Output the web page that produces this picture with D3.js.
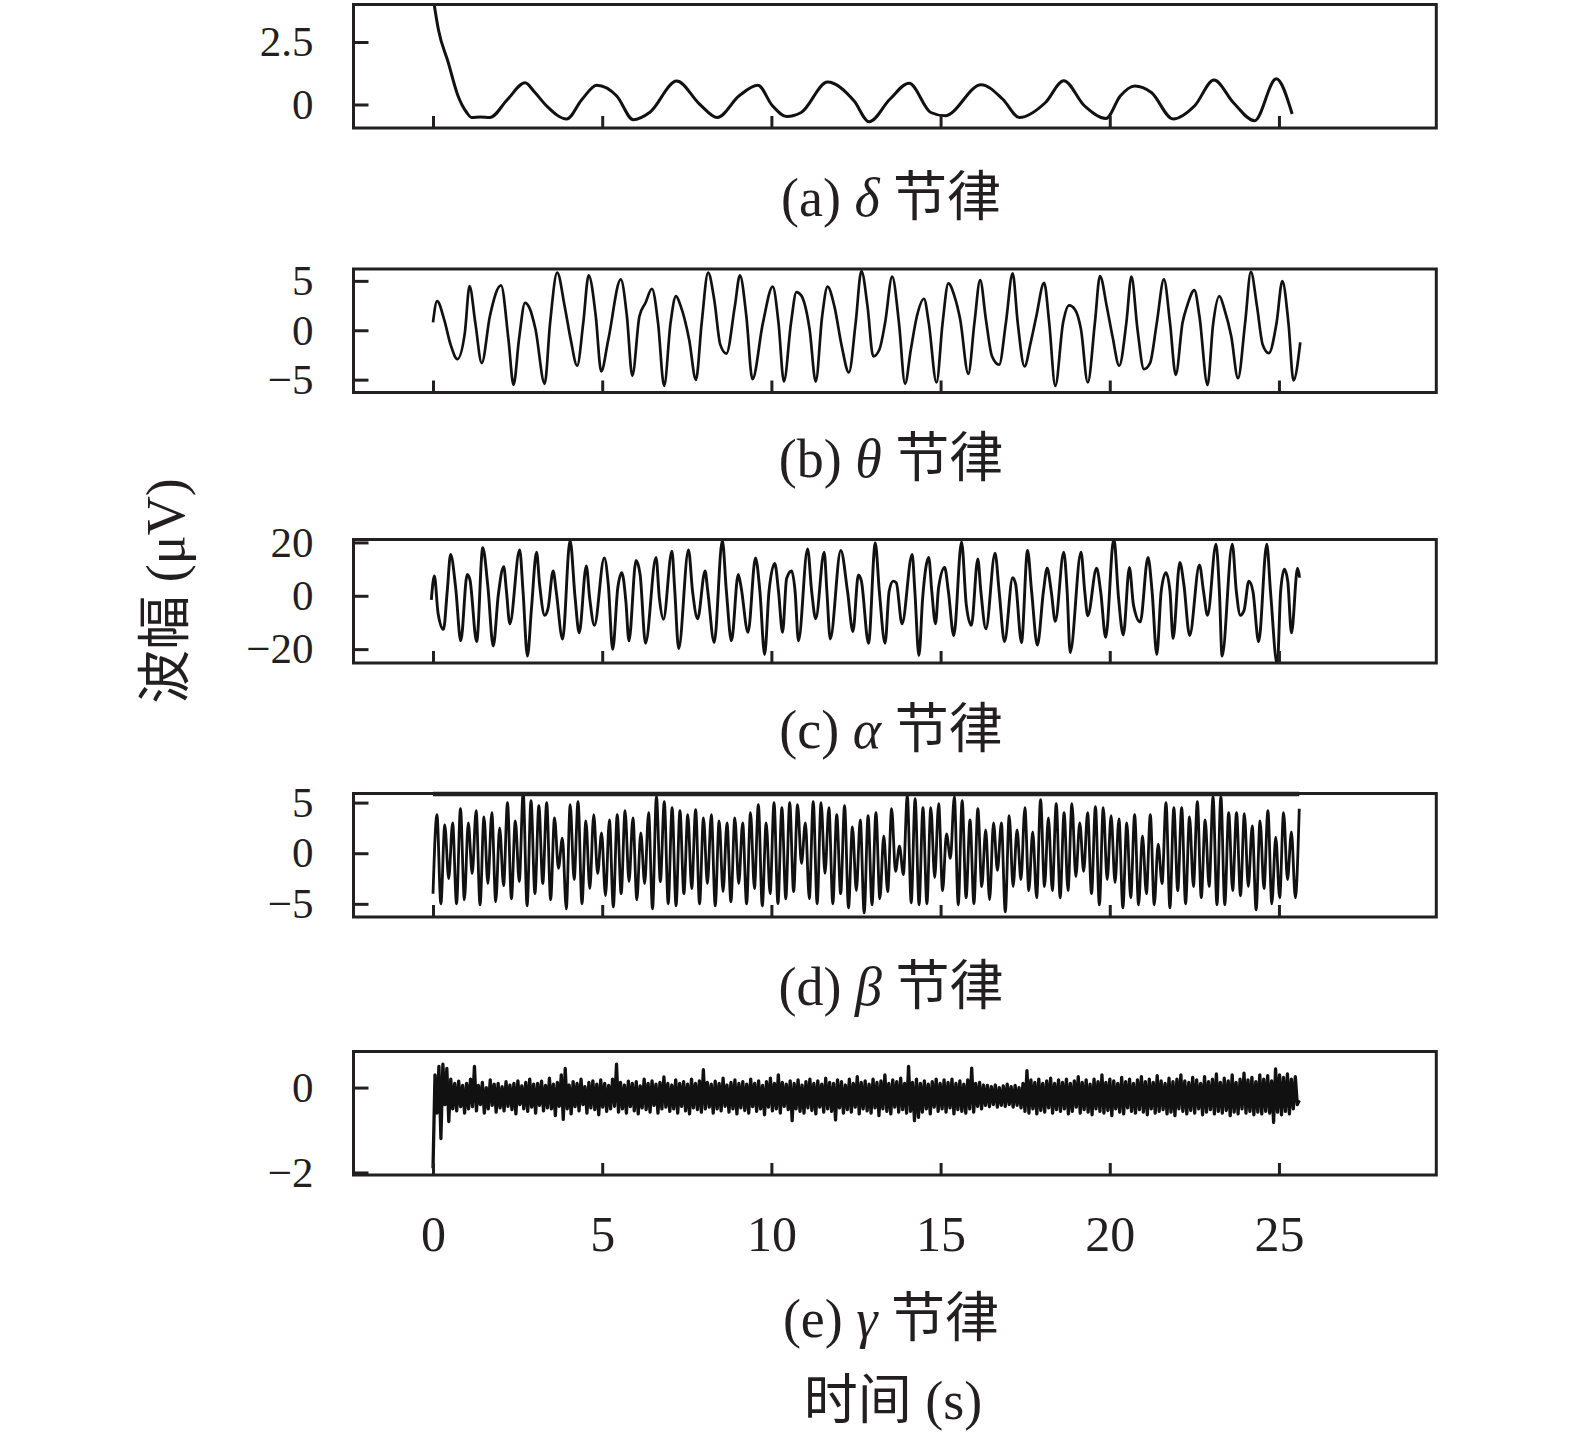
<!DOCTYPE html>
<html><head><meta charset="utf-8">
<script src="https://cdn.jsdelivr.net/npm/d3@7"></script>
<style>
body{margin:0;background:#fff}
svg{display:block}
text{font-family:"Liberation Serif","Times New Roman","Noto Sans CJK SC",serif;fill:#231f20}
</style>
</head><body>
<svg id="chart" width="1575" height="1439"></svg>
<script>
// ---------- DATA ----------
const xTickValues = [0, 5, 10, 15, 20, 25];
const panelLetters = ["(a)", "(b)", "(c)", "(d)", "(e)"];
const rhythmGreek = ["δ", "θ", "α", "β", "γ"];
const rhythmWord = "节律";
const yAxisTitle = "波幅 (μV)";
const xAxisTitle = "时间 (s)";

const yTicksDelta = [0, 2.5];
const yTicksTheta = [-5, 0, 5];
const yTicksAlpha = [-20, 0, 20];
const yTicksBeta = [-5, 0, 5];
const yTicksGamma = [-2, 0];

// delta rhythm: [time s, amplitude]
const deltaWave = [[0,4.3],[0.16,2.99],[0.45,1.68],[0.74,0.34],[0.99,-0.31],[1.14,-0.52],[1.4,-0.5],[1.68,-0.52],[2.2,0.2],[2.72,0.87],[3.0,0.5],[3.36,-0.06],[3.95,-0.58],[4.4,0.2],[4.84,0.77],[5.43,0.34],[5.92,-0.61],[6.41,-0.31],[7.2,0.94],[7.88,0.01],[8.4,-0.52],[9.04,0.34],[9.6,0.77],[10.03,-0.05],[10.45,-0.48],[10.88,-0.32],[11.66,0.9],[12.44,0.15],[12.89,-0.69],[13.5,0.21],[14.07,0.85],[14.71,-0.32],[15.13,-0.45],[16.2,0.79],[16.84,0.21],[17.33,-0.52],[18.1,0.08],[18.64,0.95],[19.25,-0.05],[19.89,-0.56],[20.31,0.34],[20.74,0.74],[21.23,0.48],[21.87,-0.58],[22.51,-0.05],[23.08,0.98],[23.65,0.08],[24.28,-0.65],[24.92,1.03],[25.39,-0.38]];

// theta rhythm: [time s, amplitude]
const thetaWave = [[0,0.8],[0.12,2.95],[0.33,1.08],[0.52,-1.46],[0.72,-2.92],[0.94,-0.27],[1.08,4.47],[1.25,0.75],[1.44,-3.32],[1.68,1.42],[2.01,4.54],[2.23,-0.95],[2.38,-5.53],[2.54,-0.95],[2.72,2.78],[2.85,2.27],[3.03,0.07],[3.3,-5.42],[3.46,0.75],[3.67,5.83],[3.89,2.44],[4.07,-0.95],[4.26,-3.59],[4.44,0.75],[4.6,5.56],[4.81,1.42],[4.97,-4.17],[5.18,-0.95],[5.55,5.15],[5.73,1.42],[5.89,-4.61],[6.1,1.42],[6.28,2.78],[6.47,4.2],[6.65,0.75],[6.83,-5.63],[7.02,0.75],[7.18,3.46],[7.32,2.44],[7.57,-0.95],[7.77,-5.02],[7.94,0.75],[8.13,5.83],[8.31,3.12],[8.49,-1.46],[8.67,-2.37],[8.92,2.44],[9.07,5.56],[9.26,1.42],[9.44,-4.95],[9.75,0.75],[10.04,4.41],[10.21,0.75],[10.37,-5.19],[10.58,0.75],[10.74,3.86],[10.88,3.53],[11.13,0.07],[11.31,-5.19],[11.5,1.42],[11.66,4.41],[11.86,2.44],[12.08,-1.63],[12.29,-4.27],[12.49,0.75],[12.66,6.0],[12.84,2.44],[13.01,-2.64],[13.19,-1.97],[13.36,0.75],[13.57,5.42],[13.77,0.75],[13.95,-5.42],[14.12,-1.97],[14.3,1.42],[14.51,3.19],[14.65,0.75],[14.88,-5.29],[15.06,0.75],[15.23,4.75],[15.41,3.46],[15.58,1.08],[15.82,-4.41],[16.0,0.75],[16.17,5.08],[16.34,1.08],[16.52,-2.64],[16.73,-3.49],[16.93,0.75],[17.13,5.76],[17.28,0.75],[17.48,-3.66],[17.66,-1.29],[17.83,1.42],[18.06,4.81],[18.21,0.75],[18.39,-5.63],[18.62,0.75],[18.8,2.51],[18.97,2.1],[19.15,0.07],[19.35,-5.29],[19.56,0.75],[19.71,5.49],[19.91,2.44],[20.08,-0.61],[20.28,-3.59],[20.49,0.75],[20.64,5.42],[20.82,0.07],[21.01,-3.93],[21.19,-3.32],[21.39,0.75],[21.6,5.15],[21.78,0.75],[21.95,-4.51],[22.15,0.75],[22.3,2.61],[22.5,4.07],[22.65,1.42],[22.89,-5.53],[23.05,0.5],[23.24,3.46],[23.39,2.1],[23.59,-0.61],[23.79,-4.85],[24.0,0.75],[24.17,5.9],[24.35,2.44],[24.52,-1.46],[24.7,-2.31],[24.93,0.75],[25.1,4.98],[25.28,0.75],[25.43,-5.08],[25.63,-1.22]];

// alpha rhythm: [time s, amplitude]
const alphaWave = [[-0.05,-1.5],[0.04,7.4],[0.15,-6.6],[0.31,-12.6],[0.42,1.7],[0.52,15.5],[0.67,2.9],[0.82,-16.9],[1.01,8.0],[1.09,6.1],[1.29,-17.2],[1.47,18.0],[1.62,3.6],[1.78,-18.8],[1.93,0.4],[2.09,10.9],[2.17,1.7],[2.27,-10.5],[2.56,17.2],[2.66,1.7],[2.79,-22.6],[2.91,-4.7],[3.06,16.3],[3.15,4.2],[3.3,-7.3],[3.4,-4.7],[3.55,9.3],[3.64,1.7],[3.83,-16.2],[4.05,20.8],[4.2,-0.9],[4.32,-13.9],[4.53,11.2],[4.63,-0.9],[4.77,-11.1],[5.06,14.2],[5.18,4.2],[5.31,-20.1],[5.46,2.9],[5.58,8.7],[5.7,-2.2],[5.79,-16.9],[6.0,13.2],[6.12,8.0],[6.28,-17.8],[6.59,14.4],[6.69,-0.9],[6.81,-8.8],[7.06,16.7],[7.14,2.9],[7.26,-19.8],[7.55,17.2],[7.67,1.7],[7.82,-8.6],[8.04,9.3],[8.12,1.7],[8.31,-17.5],[8.55,20.8],[8.67,1.7],[8.82,-16.9],[9.02,8.0],[9.1,3.6],[9.31,-13.7],[9.53,14.2],[9.66,1.7],[9.8,-22.0],[9.93,1.7],[10.1,12.1],[10.21,1.7],[10.33,-13.7],[10.45,6.5],[10.6,9.3],[10.7,1.7],[10.8,-16.9],[11.07,17.6],[11.19,1.7],[11.31,-8.6],[11.56,16.3],[11.64,1.7],[11.74,-16.2],[12.05,17.0],[12.25,1.7],[12.41,-13.4],[12.57,7.8],[12.66,5.5],[12.87,-17.8],[13.07,19.8],[13.19,1.7],[13.36,-17.8],[13.48,1.7],[13.6,5.5],[13.69,4.9],[13.86,-10.5],[14.16,15.5],[14.24,1.7],[14.36,-22.4],[14.47,-0.9],[14.65,14.4],[14.74,1.7],[14.85,-10.5],[14.94,2.9],[15.12,10.6],[15.23,1.7],[15.39,-14.9],[15.62,20.2],[15.76,-3.4],[15.91,-11.1],[16.1,13.8],[16.19,1.7],[16.34,-12.4],[16.61,16.0],[16.73,1.7],[16.89,-17.2],[17.13,6.8],[17.22,4.2],[17.39,-17.5],[17.57,17.0],[17.69,1.7],[17.86,-18.5],[18.04,1.7],[18.15,10.3],[18.27,1.7],[18.39,-9.6],[18.64,16.3],[18.74,1.7],[18.83,-21.3],[19.15,16.3],[19.26,1.7],[19.35,-7.5],[19.61,10.3],[19.73,1.7],[19.88,-15.6],[20.12,21.5],[20.26,-0.9],[20.4,-14.7],[20.58,10.6],[20.7,-3.4],[20.9,-9.8],[21.13,14.4],[21.25,1.7],[21.39,-22.0],[21.52,1.7],[21.66,8.7],[21.78,1.7],[21.87,-16.0],[22.07,12.5],[22.19,4.2],[22.36,-14.9],[22.65,11.6],[22.77,1.7],[22.89,-7.3],[23.14,19.3],[23.24,1.7],[23.32,-22.6],[23.62,19.3],[23.74,1.7],[23.86,-7.3],[23.97,-5.4],[24.11,5.5],[24.23,1.7],[24.4,-17.2],[24.64,19.3],[24.75,1.7],[24.95,-25.8],[25.05,1.7],[25.16,10.0],[25.26,5.5],[25.37,-13.9],[25.55,10.3],[25.61,6.8]];

// beta rhythm: successive extrema, evenly spaced from betaStart to betaEnd seconds
const betaStart = 0, betaEnd = 25.6;
const betaExtrema = [-4.0,
 3.8,-5.0, 2.8,-2.5, 3.0,-5.0, 4.4,-4.6,
 3.0,-2.0, 4.2,-5.1, 3.6,-3.0, 4.0,-4.8, 2.5,-3.2,
 5.0,-4.5, 3.2,-2.8, 6.0,-5.2, 5.2,-4.0,
 4.7,-3.0, 5.0,-4.6, 3.5,-1.5, 1.5,-5.5,
 4.8,-2.6, 5.1,-5.0, 3.2,-3.5, 3.8,-2.0, 2.0,-4.2,
 3.3,-5.3, 3.8,-4.0, 4.2,-2.8, 3.5,-4.6,
 2.0,-3.0, 4.0,-5.5, 5.6,-2.8, 5.1,-5.0,
 4.5,-5.2, 4.2,-4.0, 3.8,-3.5, 4.3,-5.0, 3.5,-3.0,
 3.8,-5.2, 3.2,-3.8, 3.0,-4.8, 3.5,-3.0,
 3.0,-5.0, 4.0,-3.5, 4.8,-5.2, 3.0,-4.0,
 5.0,-5.0, 4.5,-4.5, 5.0,-3.8, 4.8,-1.0, 3.0,-4.5,
 5.1,-5.0, 5.0,-2.0, 4.5,-5.0, 3.8,-4.0,
 4.7,-5.4, 2.6,-3.7, 3.3,-5.9, 3.7,-5.1, 4.0,-4.5,
 1.7,-3.8, 4.4,-1.8, 0.7,-2.1, 5.7,-4.9, 5.4,-5.1,
 4.5,-5.0, 4.5,-2.4, 4.9,-3.7, 1.9,-0.5, 5.6,-5.1,
 5.2,-4.4, 3.3,-5.0, 4.4,-3.3, 2.3,-4.6, 3.0,-1.7,
 3.0,-5.8, 3.7,-3.3, 2.3,-2.6, 4.5,-3.7, 2.1,-4.4,
 5.3,-3.3, 3.5,-3.7, 4.9,-4.4, 4.0,-3.7, 4.9,-2.3,
 3.0,-1.8, 4.0,-4.0, 4.6,-5.1, 4.5,-2.6, 3.7,-2.9,
 3.4,-5.4, 3.0,-4.4, 3.8,-5.1, 1.7,-4.0, 3.8,-5.1,
 0.9,-3.0, 5.0,-5.4, 4.5,-3.7, 4.5,-5.0, 3.6,-3.3,
 5.1,-4.4, 3.3,-3.3, 5.6,-5.1, 5.6,-5.1, 4.0,-3.7,
 4.0,-4.2, 3.9,-3.3, 2.7,-5.6, 3.2,-3.5, 4.2,-5.0,
 1.6,-4.4, 4.0,-2.6, 2.1,-4.4, 4.4];

// gamma rhythm: samples evenly spaced from gammaStart to gammaEnd seconds
const gammaStart = 0, gammaEnd = 25.6;
const gammaSamples = [
 -1.9,0.3,-0.6,0.5,-1.2,0.55,-0.4,0.45,-0.8,0.2,-0.5,0.1,-0.55,0.15,-0.45,0.05,-0.6,0.1,-0.5,0.2,
 -0.45,0.5,-0.55,0.05,-0.4,0.12,-0.6,0.0,-0.5,0.18,-0.42,0.08,-0.58,0.1,-0.48,0.02,-0.55,0.14,-0.44,0.06,
 -0.52,0.1,-0.62,0.16,-0.4,0.04,-0.5,0.12,-0.56,0.2,-0.46,0.08,-0.6,0.1,-0.42,0.15,-0.55,0.05,-0.48,0.22,
 -0.5,0.08,-0.66,0.12,-0.44,0.3,-0.75,0.45,-0.5,0.06,-0.62,0.14,-0.45,0.1,-0.55,0.2,-0.4,0.02,-0.6,0.12,
 -0.48,0.16,-0.52,0.08,-0.64,0.18,-0.46,0.1,-0.56,0.05,-0.5,0.2,-0.44,0.55,-0.58,0.12,-0.5,0.06,-0.6,0.15,
 -0.45,0.1,-0.55,0.14,-0.62,0.04,-0.48,0.2,-0.52,0.1,-0.58,0.16,-0.42,0.08,-0.6,0.12,-0.5,0.25,-0.46,0.1,
 -0.56,0.06,-0.5,0.18,-0.6,0.1,-0.44,0.14,-0.55,0.08,-0.62,0.2,-0.48,0.1,-0.52,0.16,-0.58,0.42,-0.5,0.12,
 -0.46,0.08,-0.6,0.15,-0.5,0.1,-0.55,0.22,-0.44,0.06,-0.58,0.12,-0.5,0.18,-0.62,0.1,-0.48,0.14,-0.54,0.08,
 -0.6,0.2,-0.45,0.1,-0.56,0.16,-0.5,0.05,-0.64,0.14,-0.46,0.22,-0.55,0.1,-0.5,0.3,-0.6,0.12,-0.44,0.08,
 -0.52,0.16,-0.78,0.1,-0.5,0.18,-0.56,0.06,-0.6,0.14,-0.48,0.2,-0.54,0.1,-0.62,0.16,-0.46,0.08,-0.58,0.22,
 -0.5,0.12,-0.56,0.1,-0.76,0.18,-0.48,0.14,-0.6,0.06,-0.52,0.2,-0.58,0.1,-0.46,0.26,-0.62,0.12,-0.5,0.16,
 -0.55,0.08,-0.6,0.2,-0.48,0.12,-0.66,0.16,-0.5,0.3,-0.56,0.1,-0.62,0.18,-0.46,0.14,-0.58,0.22,-0.52,0.1,
 -0.6,0.5,-0.56,0.12,-0.78,0.2,-0.7,0.1,-0.58,0.16,-0.5,0.08,-0.62,0.14,-0.46,0.2,-0.56,0.1,-0.5,0.18,
 -0.58,0.12,-0.48,0.2,-0.62,0.1,-0.52,0.16,-0.56,0.08,-0.6,0.18,-0.5,0.46,-0.58,0.1,-0.44,0.12,-0.5,0.06,
 -0.42,0.05,-0.45,0.02,-0.4,0.06,-0.46,0.0,-0.42,0.04,-0.44,0.08,-0.4,0.02,-0.46,0.05,-0.42,0.0,-0.48,0.1,
 -0.56,0.4,-0.6,0.18,-0.5,0.12,-0.62,0.2,-0.54,0.1,-0.58,0.16,-0.48,0.22,-0.6,0.1,-0.52,0.18,-0.56,0.12,
 -0.5,0.2,-0.62,0.1,-0.56,0.16,-0.46,0.26,-0.6,0.12,-0.52,0.18,-0.58,0.08,-0.64,0.2,-0.5,0.14,-0.56,0.3,
 -0.6,0.12,-0.54,0.2,-0.66,0.16,-0.5,0.1,-0.58,0.24,-0.62,0.14,-0.48,0.2,-0.56,0.1,-0.6,0.18,-0.52,0.26,
 -0.58,0.14,-0.64,0.2,-0.5,0.12,-0.6,0.28,-0.56,0.16,-0.52,0.1,-0.62,0.22,-0.58,0.14,-0.66,0.2,-0.5,0.3,
 -0.56,0.16,-0.62,0.12,-0.54,0.24,-0.6,0.18,-0.5,0.1,-0.64,0.26,-0.58,0.14,-0.52,0.2,-0.62,0.32,-0.56,0.12,
 -0.6,0.22,-0.54,0.16,-0.66,0.3,-0.58,0.12,-0.62,0.2,-0.5,0.34,-0.6,0.18,-0.56,0.24,-0.64,0.14,-0.58,0.3,
 -0.62,0.2,-0.56,0.28,-0.6,0.16,-0.82,0.44,-0.58,0.3,-0.64,0.24,-0.56,0.32,-0.62,0.2,-0.5,0.26,-0.4,-0.3];

// ---------- LAYOUT ----------
const svg = d3.select("#chart");
const plotLeft = 353.5, plotRight = 1436.3, panelH = 123.5;
const x = d3.scaleLinear().domain([-2.35, 29.65]).range([plotLeft, plotRight]);
const ink = "#231f20";
const serif = '"Liberation Serif","Times New Roman",serif';

const betaWave = betaExtrema.map((v, i) => [betaStart + i * (betaEnd - betaStart) / (betaExtrema.length - 1), v]);
const gammaWave = gammaSamples.map((v, i) => [gammaStart + i * (gammaEnd - gammaStart) / (gammaSamples.length - 1), v]);

const panels = [
  {top: 4.5,   domain: [-0.94, 4.0],  ticks: yTicksDelta, data: deltaWave, curve: d3.curveMonotoneX, sw: 3.0, capY: 198},
  {top: 269,   domain: [-6.3, 6.2],   ticks: yTicksTheta, data: thetaWave, curve: d3.curveMonotoneX, sw: 2.7, capY: 459},
  {top: 539.5, domain: [-25.2, 21.1], ticks: yTicksAlpha, data: alphaWave, curve: d3.curveMonotoneX, sw: 2.9, capY: 730},
  {top: 793.5, domain: [-6.3, 5.9],   ticks: yTicksBeta,  data: betaWave,  curve: d3.curveMonotoneX, sw: 2.8, capY: 987},
  {top: 1051.5,domain: [-2.06, 0.85], ticks: yTicksGamma, data: gammaWave, curve: d3.curveLinear,    sw: 3.3, capY: 1319}
];

const fmt = d => (d < 0 ? "\u2212" + Math.abs(d) : String(d));

panels.forEach((p, i) => {
  const y = d3.scaleLinear().domain(p.domain).range([p.top + panelH, p.top]);
  const g = svg.append("g");

  const clipId = "clip" + i;
  svg.append("clipPath").attr("id", clipId).append("rect")
    .attr("x", plotLeft).attr("y", p.top).attr("width", plotRight - plotLeft).attr("height", panelH);

  // waveform
  const line = d3.line().x(d => x(d[0])).y(d => y(d[1])).curve(p.curve);
  g.append("path").datum(p.data)
    .attr("clip-path", `url(#${clipId})`)
    .attr("d", line).attr("fill", "none").attr("stroke", "#111")
    .attr("stroke-width", p.sw).attr("stroke-linejoin", "round");

  // y axis (inward ticks)
  const ya = g.append("g").attr("transform", `translate(${plotLeft},0)`)
    .call(d3.axisLeft(y).tickValues(p.ticks).tickFormat(fmt).tickSize(-15).tickPadding(40));
  ya.select(".domain").remove();
  ya.selectAll(".tick line").attr("stroke", ink).attr("stroke-width", 3);
  ya.selectAll(".tick text").attr("font-size", 43).attr("fill", ink).style("font-family", serif);

  // x axis (inward ticks)
  const last = i === panels.length - 1;
  const xa = g.append("g").attr("transform", `translate(0,${p.top + panelH})`)
    .call(d3.axisBottom(x).tickValues(xTickValues).tickSize(-12).tickPadding(40)
      .tickFormat(last ? d3.format("d") : () => ""));
  xa.select(".domain").remove();
  xa.selectAll(".tick line").attr("stroke", ink).attr("stroke-width", 3);
  xa.selectAll(".tick text").attr("font-size", 50).attr("fill", ink).style("font-family", serif);

  // frame
  g.append("rect").attr("x", plotLeft).attr("y", p.top)
    .attr("width", plotRight - plotLeft).attr("height", panelH)
    .attr("fill", "none").attr("stroke", ink).attr("stroke-width", 3);

  // beta panel: heavier top edge across the recorded span
  if (i === 3) {
    g.append("line").attr("x1", x(betaStart)).attr("x2", x(betaEnd))
      .attr("y1", p.top + 0.5).attr("y2", p.top + 0.5)
      .attr("stroke", ink).attr("stroke-width", 4.5);
  }

  // caption
  const cap = svg.append("text").attr("x", 891).attr("y", p.capY)
    .attr("text-anchor", "middle").attr("dominant-baseline", "central")
    .attr("font-size", 54);
  cap.append("tspan").text(panelLetters[i] + " ");
  cap.append("tspan").attr("font-style", "italic").text(rhythmGreek[i]);
  cap.append("tspan").text(" " + rhythmWord);
});

// axis titles
svg.append("text").attr("x", 893).attr("y", 1401)
  .attr("text-anchor", "middle").attr("dominant-baseline", "central")
  .attr("font-size", 54).text(xAxisTitle);

svg.append("text").attr("transform", "translate(166,591) rotate(-90)")
  .attr("text-anchor", "middle").attr("dominant-baseline", "central")
  .attr("font-size", 54).text(yAxisTitle);
</script>
</body></html>
